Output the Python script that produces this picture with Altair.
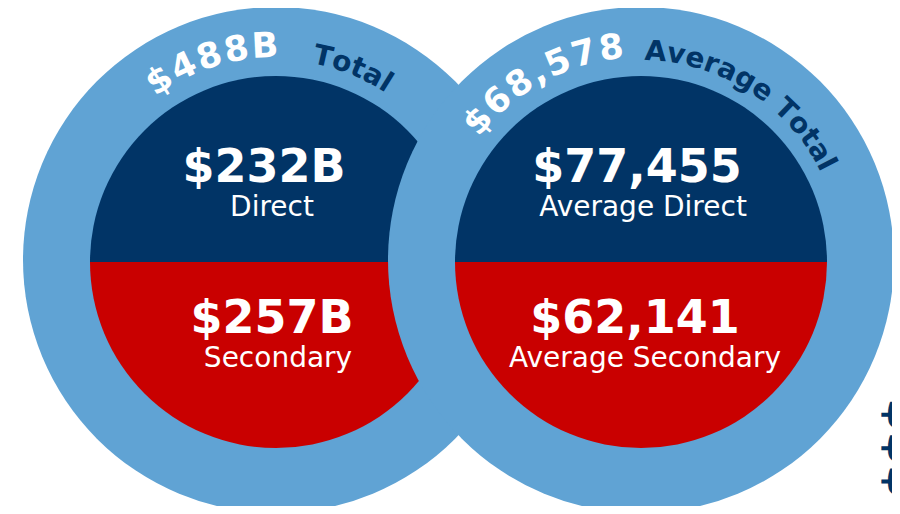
import math
import altair as alt
import pandas as pd

# ---------------- data ----------------
circle_ids = [0, 1]
total_values = ["$488B", "$68,578"]
total_labels = ["Total", "Average Total"]
direct_values = ["$232B", "$77,455"]
direct_labels = ["Direct", "Average Direct"]
secondary_values = ["$257B", "$62,141"]
secondary_labels = ["Secondary", "Average Secondary"]
edge_mark = ["$$$"]

# ---------------- layout / style ----------------
W, H = 884, 498
CX = [268, 633]          # outer circle centres (chart px)
CY = 252
CY_IN = 254
R_OUT = 253
R_IN = 186
LIGHT = "#60A3D4"
NAVY = "#013466"
RED = "#C90000"
FONT = "DejaVu Sans"

# first-character centre angle (deg, clockwise from north) for the arc texts
VALUE_START = [-33.0, -49.5]
WORD_START = [13.0, 4.0]
VALUE_SIZE, WORD_SIZE = 35, 28
VALUE_LS, WORD_LS = 2.0, 0.0
VALUE_R, WORD_R = 203, 200

# horizontal nudges of the straight texts, per circle
DX = {"dv": [-12, -4], "dl": [-4, 2], "sv": [-4, -6], "sl": [2, 4]}

# DejaVu Sans Bold advance widths (em)
WIDTHS = {" ": .348, "$": .696, ",": .380, "A": .774, "B": .762, "T": .683,
          "a": .675, "e": .678, "g": .716, "l": .343, "o": .687, "r": .494,
          "t": .478, "v": .652}
for d in "0123456789":
    WIDTHS[d] = .696

xscale = alt.Scale(domain=[0, 1], range=CX)
X = alt.X("idx:Q", scale=xscale, axis=None, stack=None)
COLOR_SCALE = alt.Scale(domain=["Direct", "Secondary", "value", "word"],
                        range=[NAVY, RED, "#FFFFFF", NAVY])


def arc_rows(idx, text, first_center_deg, size, ls, r, kind):
    rows = []
    pos = 0.0
    first_half = WIDTHS.get(text[0], .6) * size / 2
    for ch in text:
        w = WIDTHS.get(ch, .6) * size
        centre = pos + w / 2 - first_half
        ang = first_center_deg + math.degrees(centre / r)
        rows.append({"idx": idx, "ch": ch, "kind": kind, "size": size,
                     "r": r, "theta": math.radians(ang), "angle": ang % 360})
        pos += w + ls
    return rows


arc_records = []
for i in circle_ids:
    arc_records += arc_rows(i, total_values[i], VALUE_START[i], VALUE_SIZE, VALUE_LS, VALUE_R, "value")
    arc_records += arc_rows(i, total_labels[i], WORD_START[i], WORD_SIZE, WORD_LS, WORD_R, "word")
arc_df = pd.DataFrame(arc_records)

half_df = pd.DataFrame({
    "idx": [i for i in circle_ids for _ in range(2)],
    "part": ["Direct", "Secondary"] * len(circle_ids),
    "t0": [-math.pi / 2, math.pi / 2] * len(circle_ids),
    "t1": [math.pi / 2, 3 * math.pi / 2] * len(circle_ids),
})
disk_df = pd.DataFrame({"idx": circle_ids})
text_df = pd.DataFrame({
    "idx": circle_ids,
    "dv": direct_values, "dl": direct_labels,
    "sv": secondary_values, "sl": secondary_labels,
})

layers = []
for i in circle_ids:
    ring = alt.Chart(disk_df).transform_filter(alt.datum.idx == i).mark_arc(
        radius=R_OUT, theta=0, theta2=2 * math.pi, color=LIGHT
    ).encode(x=X, y=alt.value(CY))
    halves = alt.Chart(half_df).transform_filter(alt.datum.idx == i).mark_arc(
        radius=R_IN
    ).encode(
        x=X, y=alt.value(CY_IN),
        theta=alt.Theta("t0:Q", scale=None, stack=None),
        theta2="t1:Q",
        color=alt.Color("part:N", scale=COLOR_SCALE, legend=None),
    )
    layers += [ring, halves]

arc_text = alt.Chart(arc_df).mark_text(
    font=FONT, fontWeight="bold", align="center", baseline="alphabetic"
).encode(
    x=X, y=alt.value(CY),
    theta=alt.Theta("theta:Q", scale=None, stack=None),
    radius=alt.Radius("r:Q", scale=None),
    angle=alt.Angle("angle:Q", scale=None),
    size=alt.Size("size:Q", scale=None),
    text="ch:N",
    color=alt.Color("kind:N", scale=COLOR_SCALE, legend=None),
)
layers.append(arc_text)


def straight(field, y, size, weight):
    out = []
    for i in circle_ids:
        out.append(alt.Chart(text_df).transform_filter(alt.datum.idx == i).mark_text(
            font=FONT, fontSize=size, fontWeight=weight, color="white",
            align="center", baseline="alphabetic", dx=DX[field][i]
        ).encode(x=X, y=alt.value(y), text=f"{field}:N"))
    return out


layers += straight("dv", 174, 46, "bold")
layers += straight("dl", 208, 28, "normal")
layers += straight("sv", 325, 46, "bold")
layers += straight("sl", 359, 28, "normal")

edge = alt.Chart(pd.DataFrame({"t": edge_mark})).mark_text(
    font=FONT, fontSize=48, fontWeight="bold", color=NAVY,
    align="left", baseline="alphabetic", angle=90
).encode(x=alt.value(880), y=alt.value(390), text="t:N")
layers.append(edge)

chart = alt.layer(*layers).properties(
    width=W, height=H, padding=0, autosize=alt.AutoSizeParams(type="none"),
    background="white"
).configure_view(stroke=None)

chart.save("out.html", embed_options={"renderer": "svg", "actions": False})
